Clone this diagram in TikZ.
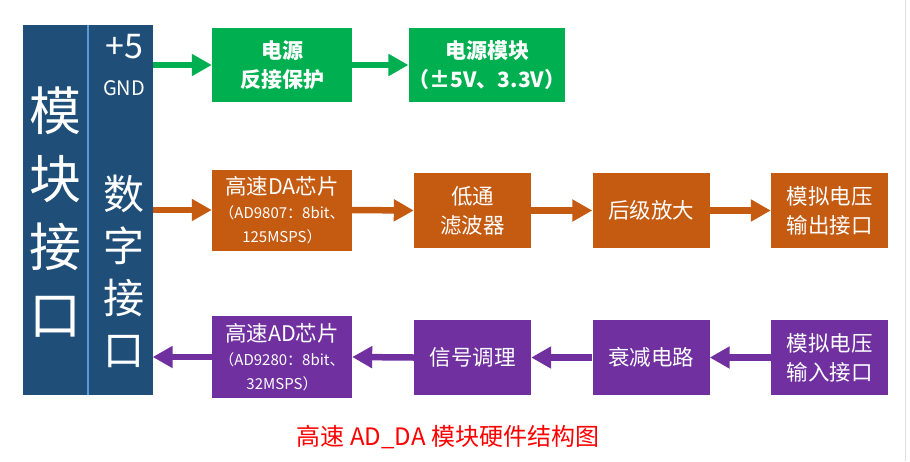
\documentclass[tikz,border=0pt]{standalone}
\usepackage{fontspec}
\setmainfont{Noto Sans CJK SC}
\usetikzlibrary{arrows.meta}
\definecolor{mkblue}{HTML}{1F4E79}
\definecolor{lineblue}{HTML}{5B9BD5}
\definecolor{pwrgreen}{HTML}{00B050}
\definecolor{daorange}{HTML}{C55A11}
\definecolor{adpurple}{HTML}{7030A0}
\tikzset{
  blk/.style={text=white, align=center, inner sep=0pt, minimum height=75pt, minimum width=117pt,
              font=\fontsize{21.5}{29}\selectfont},
  gbox/.style={blk, fill=pwrgreen, font=\bfseries\fontsize{21}{29}\selectfont},
  obox/.style={blk, fill=daorange},
  pbox/.style={blk, fill=adpurple},
  flow/.style={line width=6.5pt, -{Triangle[length=20pt,width=21pt]}}
}
\newcommand\subtxt{\fontsize{15}{19}\selectfont}
\begin{document}
\begin{tikzpicture}[x=1pt,y=-1pt]
      \useasboundingbox (0,0) rectangle (910,461);
      % slide edge
      \draw [black!12, line width=1pt] (905,0) -- (905,461);

      % module interface
      \node (lft) [fill=mkblue, minimum width=65pt, minimum height=370pt, inner sep=0pt] at (55.5,210) {};
      \node (rgt) [fill=mkblue, minimum width=64pt, minimum height=370pt, inner sep=0pt] at (120.5,210) {};
      \draw [lineblue, line width=2pt] (lft.north east) -- (lft.south east);
      \node (mkjk) [text=white, align=center, font=\fontsize{52}{68}\selectfont] at (55.5,212) {模\\块\\接\\口};
      \node (p5) [text=white, font=\fontsize{34}{36}\selectfont] at (124,47) {+5};
      \node (gnd) [text=white, font=\fontsize{20}{22}\selectfont] at (124,88) {GND};
      \node (szjk) [text=white, align=center, font=\fontsize{41}{52}\selectfont] at (124,271) {数\\字\\接\\口};

      % power row
      \node (g1) [gbox, minimum width=140pt, minimum height=74pt] at (282,65) {电源\\反接保护};
      \node (g2) [gbox, minimum width=152pt, minimum height=74pt] at (487,65) {电源模块\\（±5V、3.3V）};

      % DA row
      \node (o1) [obox, minimum width=140pt, minimum height=81pt] at (282,210)
        {高速DA芯片\\[-5pt]{\subtxt（AD9807：8bit、}\\[-5pt]{\subtxt 125MSPS）}};
      \node (o2) [obox] at (472.5,210.5) {低通\\滤波器};
      \node (o3) [obox] at (651,210.5) {后级放大};
      \node (o4) [obox] at (829.5,210.5) {模拟电压\\输出接口};

      % AD row
      \node (pa1) [pbox, minimum width=140pt, minimum height=82pt] at (282,357)
        {高速AD芯片\\[-5pt]{\subtxt（AD9280：8bit、}\\[-5pt]{\subtxt 32MSPS）}};
      \node (pa2) [pbox] at (472.5,357.5) {信号调理};
      \node (pa3) [pbox] at (651,357.5) {衰减电路};
      \node (pa4) [pbox] at (829.5,357.5) {模拟电压\\输入接口};

      \node (cap) [text=red, font=\fontsize{24}{28}\selectfont] at (448,437) {高速 AD\_DA 模块硬件结构图};

      \draw [flow, pwrgreen] (rgt.east |- g1.west) -- (g1.west);
      \draw [flow, pwrgreen] (g1.east) -- (g2.west);

      \draw [flow, daorange] (rgt.east |- o1.west) -- (o1.west);
      \draw [flow, daorange] (o1.east) -- (o2.west);
      \draw [flow, daorange] (o2.east) -- (o3.west);
      \draw [flow, daorange] (o3.east) -- (o4.west);

      \draw [flow, adpurple] (pa4.west) -- (pa3.east);
      \draw [flow, adpurple] (pa3.west) -- (pa2.east);
      \draw [flow, adpurple] (pa2.west) -- (pa1.east);
      \draw [flow, adpurple] (pa1.west) -- (rgt.east |- pa1.west);
    \end{tikzpicture}
\end{document}
